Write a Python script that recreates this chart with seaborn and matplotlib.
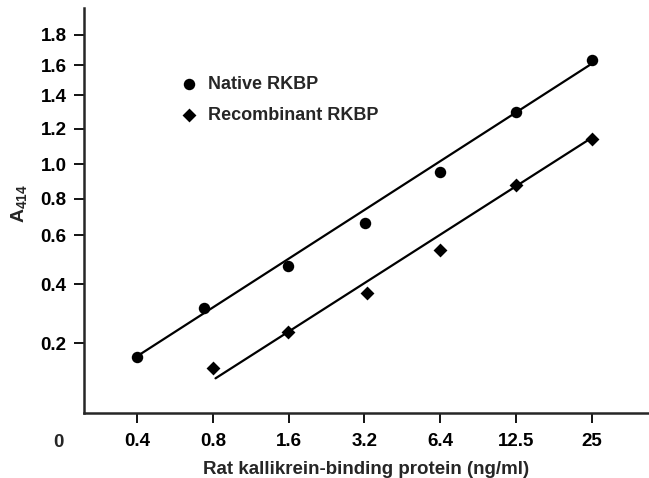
import numpy as np
import pandas as pd
import seaborn as sns
import matplotlib.pyplot as plt
import matplotlib.transforms as mtransforms
from matplotlib.ticker import NullLocator

# Values (x = ng/ml, y = A414)
native_conc = [0.39, 0.72, 1.56, 3.13, 6.25, 12.5, 25.0]
native_a414 = [0.162, 0.318, 0.473, 0.664, 0.952, 1.298, 1.635]
recomb_conc = [0.78, 1.56, 3.2, 6.25, 12.5, 25.0]
recomb_a414 = [0.129, 0.239, 0.369, 0.539, 0.879, 1.140]

# End points of the fitted lines
native_fit_conc = [0.39, 25.0]
native_fit_a414 = [0.163, 1.610]
recomb_fit_conc = [0.8, 25.0]
recomb_fit_a414 = [0.100, 1.148]

# Axis ticks
x_ticks = [0.390625, 0.78125, 1.5625, 3.125, 6.25, 12.5, 25.0]
x_tick_labels = ['0.4', '0.8', '1.6', '3.2', '6.4', '12.5', '25']
y_ticks = [0.2, 0.4, 0.6, 0.8, 1.0, 1.2, 1.4, 1.6, 1.8]

# The A414 axis of the original is not evenly spaced, so map each value
# to its relative height on the axis and interpolate in between
y_breaks = [0.0, 0.2, 0.4, 0.6, 0.8, 1.0, 1.2, 1.4, 1.6, 1.8, 2.0]
y_heights = [0.0, 70.0, 129.3, 178.3, 214.6, 249.3, 284.6, 318.0, 348.0, 378.6, 409.2]


def y_forward(v):
    return np.interp(v, y_breaks, y_heights)


def y_inverse(h):
    return np.interp(h, y_heights, y_breaks)


df_native = pd.DataFrame({'conc': native_conc, 'a414': native_a414})
df_recomb = pd.DataFrame({'conc': recomb_conc, 'a414': recomb_a414})

sns.set_style('ticks')
plt.rcParams['font.family'] = ['Liberation Sans', 'DejaVu Sans']
plt.rcParams['font.weight'] = 'bold'
plt.rcParams['mathtext.fontset'] = 'custom'
plt.rcParams['mathtext.it'] = 'Liberation Sans:italic:bold'
plt.rcParams['mathtext.rm'] = 'Liberation Sans:bold'

fig = plt.figure(figsize=(6.49, 4.78), dpi=100)
ax = fig.add_axes([0.1294, 0.1353, 0.8706, 0.848])

ax.set_xscale('log', base=2)
ax.set_yscale('function', functions=(y_forward, y_inverse))

# Fitted lines
sns.lineplot(x=native_fit_conc, y=native_fit_a414, color='black', linewidth=1.6, ax=ax)
sns.lineplot(x=recomb_fit_conc, y=recomb_fit_a414, color='black', linewidth=1.6, ax=ax)

# Data points
sns.scatterplot(data=df_native, x='conc', y='a414', marker='o', s=68, color='black',
                linewidth=0, label='Native RKBP', zorder=3, ax=ax)
sns.scatterplot(data=df_recomb, x='conc', y='a414', marker='D', s=50, color='black',
                linewidth=0, label='Recombinant RKBP', zorder=3, ax=ax)

ax.set_xlim(0.240, 42.3)
ax.set_ylim(0.0, 1.975)
ax.set_xticks(x_ticks)
ax.set_xticklabels(x_tick_labels)
ax.xaxis.set_minor_locator(NullLocator())
ax.set_yticks(y_ticks)
ax.set_yticklabels([f'{v:.1f}' for v in y_ticks])
ax.yaxis.set_minor_locator(NullLocator())

sns.despine(ax=ax)
for side in ['left', 'bottom']:
    ax.spines[side].set_linewidth(1.8)
ax.tick_params(axis='both', direction='out', length=7.5, width=1.3, labelsize=13.5, colors='black')
ax.tick_params(axis='x', pad=6.5)
ax.tick_params(axis='y', pad=5)

# the "0" at the left end of the concentration axis
trans = mtransforms.blended_transform_factory(ax.transData, ax.transAxes)
ax.text(0.19, -0.071, '0', transform=trans, ha='center', va='center',
        fontsize=13.5, fontweight='bold', clip_on=False)

ax.set_xlabel('Rat kallikrein-binding protein (ng/ml)', fontsize=13.5, fontweight='bold')
ax.xaxis.set_label_coords(0.5, -0.117)
ax.set_ylabel(r'A$_{414}$', fontsize=14, fontweight='bold')
ax.yaxis.set_label_coords(-0.097, 0.518)

ax.legend(loc='upper left', bbox_to_anchor=(0.157, 0.851), frameon=False,
          handlelength=1.0, handletextpad=0.55, labelspacing=0.78, borderaxespad=0,
          prop={'size': 13, 'weight': 'bold'})

fig.savefig('out.png', dpi=100)
